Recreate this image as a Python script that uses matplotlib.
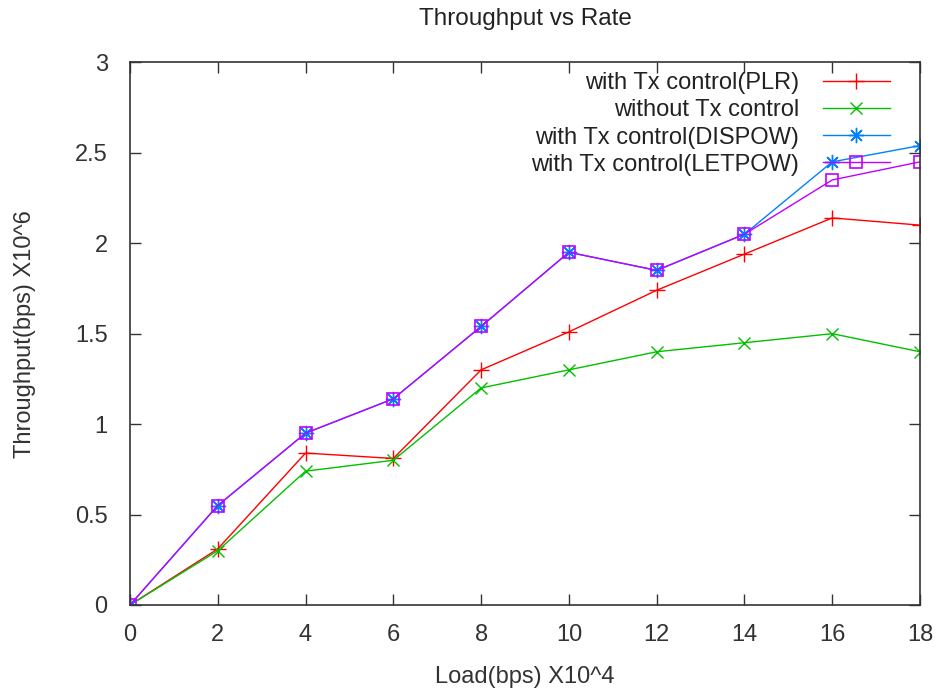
import matplotlib
matplotlib.use("Agg")
import matplotlib.pyplot as plt

plt.rcParams['font.family'] = ['Liberation Sans', 'DejaVu Sans']

# data
load = [0, 2, 4, 6, 8, 10, 12, 14, 16, 18]
plr = [0, 0.31, 0.84, 0.81, 1.30, 1.51, 1.74, 1.94, 2.14, 2.10]
no_ctrl = [0, 0.30, 0.74, 0.80, 1.20, 1.30, 1.40, 1.45, 1.50, 1.40]
dispow = [0, 0.55, 0.95, 1.14, 1.54, 1.95, 1.85, 2.05, 2.45, 2.54]
letpow = [0, 0.55, 0.95, 1.14, 1.54, 1.95, 1.85, 2.05, 2.35, 2.45]

labels = ['with Tx control(PLR)', 'without Tx control',
          'with Tx control(DISPOW)', 'with Tx control(LETPOW)']

fig = plt.figure(figsize=(9.35, 6.93), dpi=100)
ax = fig.add_axes([0.139, 0.127, 0.845, 0.783])

ax.plot(load, plr, color='#ff0000', marker='+', ms=11, mew=1, lw=1, label=labels[0])
ax.plot(load, no_ctrl, color='#00c000', marker='x', ms=8, mew=1, lw=1, label=labels[1])
ax.plot(load, dispow, color='#0080ff', marker=(8, 2, 0), ms=11, mew=1, lw=1, label=labels[2])
ax.plot(load, letpow, color='#c000ff', marker='s', ms=9, mew=1.2, mfc='none', lw=1, label=labels[3])

ax.set_xlim(0, 18)
ax.set_ylim(0, 3)
ax.set_xticks(load)
ax.set_yticks([0, 0.5, 1, 1.5, 2, 2.5, 3])
ax.set_yticklabels(['0', '0.5', '1', '1.5', '2', '2.5', '3'])
ax.tick_params(direction='in', length=8, width=1, top=True, right=True,
               labelsize=17, colors='#333333')
ax.tick_params(axis='x', pad=14)
ax.tick_params(axis='y', pad=16)
for s in ax.spines.values():
    s.set_color('#333333')
    s.set_linewidth(1.2)

ax.set_title('Throughput vs Rate', fontsize=17.5, color='#222222', pad=27)
ax.set_xlabel('Load(bps) X10^4', fontsize=17, color='#333333', labelpad=14)
ax.set_ylabel('Throughput(bps) X10^6', fontsize=17, color='#333333', labelpad=28)

ax.legend(loc='upper right', bbox_to_anchor=(0.962, 0.982), frameon=False,
          markerfirst=False, numpoints=1, fontsize=17, handlelength=2.85,
          handletextpad=1.0, labelspacing=0.22, borderpad=0, borderaxespad=0,
          labelcolor='#222222')

fig.savefig('out.png', dpi=100)
